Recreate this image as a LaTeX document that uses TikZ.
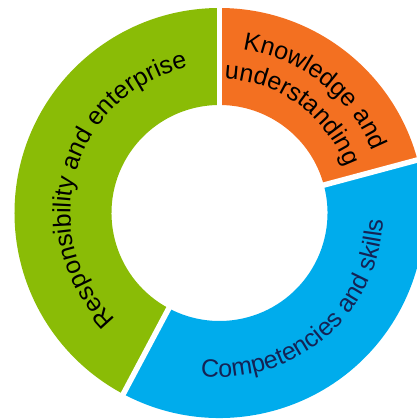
\documentclass[tikz,border=0pt]{standalone}
\usepackage{fontspec}
\setmainfont{Liberation Sans}
\usetikzlibrary{decorations.text}

\definecolor{ringgreen}{RGB}{138,188,6}
\definecolor{ringorange}{RGB}{243,112,33}
\definecolor{ringblue}{RGB}{0,172,236}
\definecolor{textnavy}{RGB}{20,35,85}
\newcommand{\ringfont}{\fontsize{25}{29}\selectfont}

\begin{document}
\begin{tikzpicture}[x=1pt, y=1pt,
    gap/.style={white, line width=5.5pt},
    ringtext/.style={decorate, decoration={text along path, text align=center, text color=#1}}]
    \useasboundingbox (-219.5,-206) rectangle (196.5,213);

    % Ring segments (inner radius 108, outer radius 205)
    \fill[ringgreen] (90:205) arc (90:242:205) -- (242:108) arc (242:90:108) -- cycle;
    \fill[ringblue] (242:205) arc (242:375:205) -- (375:108) arc (375:242:108) -- cycle;
    \fill[ringorange] (15:205) arc (15:90:205) -- (90:108) arc (90:15:108) -- cycle;

    % White separators between segments
    \draw[gap] (90:100) -- (90:215);
    \draw[gap] (242:100) -- (242:215);
    \draw[gap] (15:100) -- (15:215);

    % Labels along the ring
    \path[ringtext=black, decoration={text={|\ringfont|Responsibility and enterprise}}]
        (240:149) arc (240:88:149);
    \path[ringtext=black, decoration={text={|\ringfont|Knowledge and}}]
        (89:165) arc (89:15:165);
    \path[ringtext=black, decoration={text={|\ringfont|understanding}}]
        (90:134) arc (90:18:134);
    \path[ringtext=textnavy, decoration={text={|\ringfont|Competencies and skills}}]
        (250:164) arc (250:371:164);
\end{tikzpicture}
\end{document}
